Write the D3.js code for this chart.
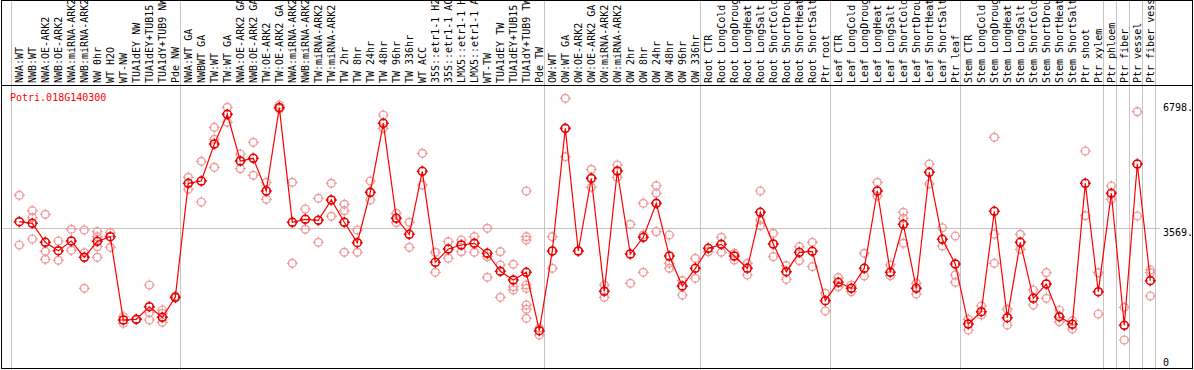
<!DOCTYPE html>
<html>
<head>
<meta charset="utf-8">
<script src="https://cdn.jsdelivr.net/npm/d3@7/dist/d3.min.js"></script>
<style>
  body { margin: 0; background: #fff; }
  text { font-family: "DejaVu Sans Mono", "Liberation Mono", monospace; font-size: 10px; }
</style>
</head>
<body>
<script>
// chart data
var geneName = "Potri.018G140300";

var categories = [
  "NWA:WT", "NWB:WT", "NWA:OE-ARK2", "NWB:OE-ARK2", "NWA:miRNA-ARK2", "NWB:miRNA-ARK2",
  "NW 0hr", "WT H2O", "WT-NW", "TUA1dEY NW", "TUA1dEY+TUB15", "TUA1dY+TUB9 NW", "Pde NW",
  "NWA:WT GA", "NWBWT GA", "TW:WT", "TW:WT GA", "NWA:OE-ARK2 GA", "NWB:OE-ARK2 GA",
  "TW:OE-ARK2", "TW:OE-ARK2 GA", "NWA:miRNA-ARK2", "NWB:miRNA-ARK2", "TW:miRNA-ARK2",
  "TW:miRNA-ARK2", "TW 2hr", "TW 8hr", "TW 24hr", "TW 48hr", "TW 96hr", "TW 336hr",
  "WT ACC", "35S::etr1-1 H2", "35S::etr1-1 AC", "LMX5::etr1-1 H", "LMX5::etr1-1 A",
  "WT-TW", "TUA1dEY TW", "TUA1dEY+TUB15", "TUA1dY+TUB9 TW", "Pde TW",
  "OW:WT", "OW:WT GA", "OW:OE-ARK2", "OW:OE-ARK2 GA", "OW:miRNA-ARK2", "OW:miRNA-ARK2",
  "OW 2hr", "OW 8hr", "OW 24hr", "OW 48hr", "OW 96hr", "OW 336hr",
  "Root CTR", "Root LongCold", "Root LongDroug", "Root LongHeat", "Root LongSalt",
  "Root ShortCold", "Root ShortDrou", "Root ShortHeat", "Root ShortSalt", "Ptr root",
  "Leaf CTR", "Leaf LongCold", "Leaf LongDroug", "Leaf LongHeat", "Leaf LongSalt",
  "Leaf ShortCold", "Leaf ShortDrou", "Leaf ShortHeat", "Leaf ShortSalt", "Ptr leaf",
  "Stem CTR", "Stem LongCold", "Stem LongDroug", "Stem LongHeat", "Stem LongSalt",
  "Stem ShortCold", "Stem ShortDrou", "Stem ShortHeat", "Stem ShortSalt", "Ptr shoot",
  "Ptr xylem", "Ptr phloem", "Ptr fiber", "Ptr vessel", "Ptr fiber vess"
];

// group boundaries (index of first category after each separator)
var groupBreaks = [0, 13, 41, 53, 63, 73, 84, 85, 86, 87, 88];

var means = [
  3749, 3706, 3198, 2974, 3233, 2798, 3225, 3348, 1122, 1141, 1478, 1194, 1729,
  4775, 4836, 5825, 6619, 5371, 5443, 4569, 6798, 3733, 3813, 3786, 4329, 3733, 3188,
  4534, 6378, 3840, 3412, 5096, 2664, 3019, 3126, 3172, 2904, 2424, 2191, 2397, 836,
  2966, 6244, 2966, 4908, 1889, 5104, 2886, 3332, 4240, 2832, 2031, 2504,
  3038, 3145, 2832, 2504, 4000, 3153, 2413, 2931, 2958, 1638,
  2130, 1969, 2504, 4569, 2397, 3679, 1969, 5069, 3279, 2619,
  1015, 1344, 4027, 1184, 3198, 1702, 2084, 1210, 1007, 4775,
  1878, 4508, 981, 5291, 2172
];

var replicates = [
  [4454, 3126], [4043, 3856, 3287], [3947, 2958, 2744], [3233, 2717], [3546, 2985],
  [3527, 2920, 1969], [3482, 3348, 3081, 2798], [3455, 3065], [1210, 1034], [1141],
  [2057, 1317, 1122], [1389, 1301, 1061], [1763, 1710],
  [4935, 4615], [5363, 4275], [6271, 5951, 5202], [6806, 6405], [5558, 5165],
  [5870, 4989], [4802, 4347], [6867, 6760], [4802, 2637], [4088, 3546], [4374, 3198],
  [4775, 3893], [4214, 4043, 2931], [3527, 2931], [4836, 4329], [6600, 6244],
  [3973, 3722], [3733, 3065], [5576, 4729], [2931, 2397], [3214, 2771], [3260, 2947],
  [3348, 2931], [3572, 2814, 2263], [2947, 2592, 1729], [2611, 2012, 1924],
  [4569, 3348, 3260, 2057, 1969, 1523, 1408, 1168], [900, 721],
  [3348, 2504], [7046, 5486], [2966], [5149, 4668], [2057, 1729], [5264, 4935],
  [3679, 2103], [4240, 3393, 2397], [4711, 4508, 3482], [3393, 2637, 2504],
  [2172, 1790], [2771, 2236],
  [2947], [3332, 2931], [2904, 2725], [2637, 2325], [4569, 3794, 3642], [3439, 2814],
  [2573, 2210], [3081, 2707], [3198, 2546], [1836, 1363],
  [2253, 2012], [2057, 1878], [2904, 2298], [4802, 4436], [2592, 2306],
  [4000, 3840, 3172], [2103, 1817], [5291, 4756], [3588, 3100], [3367, 2325, 2130],
  [1141, 855], [1496, 1256], [6004, 3420, 2637], [1408, 989], [3412, 3011],
  [1924, 1523], [2386, 1702], [1389, 1077], [1104, 882], [5638, 3909],
  [2386, 1283], [4703, 4347], [1462, 588], [6688, 3901], [2458, 2386, 1764]
];

var axisTicks = [6798, 3569, 0];

var svgWidth = 1194;
var svgHeight = 370;
var headerBottom = 85;

var svg = d3.select("body").append("svg")
  .attr("width", svgWidth)
  .attr("height", svgHeight);

var x = d3.scalePoint()
  .domain(d3.range(categories.length))
  .range([19.3, 1150.3]);

var y = d3.scaleLinear()
  .domain([0, 6798])
  .range([362, 107.6]);

var step = x.step();

// horizontal mid gridline
svg.append("line")
  .attr("x1", 2).attr("x2", 1160)
  .attr("y1", Math.round(y(3569)) + 0.5).attr("y2", Math.round(y(3569)) + 0.5)
  .attr("stroke", "#c4c4c4");

// group separators, through header and plot
svg.selectAll(".sep")
  .data(groupBreaks)
  .enter()
  .append("line")
  .attr("class", "sep")
  .attr("x1", d => Math.round(x(0) + (d - 0.5) * step - 2) + 0.5)
  .attr("x2", d => Math.round(x(0) + (d - 0.5) * step - 2) + 0.5)
  .attr("y1", 0).attr("y2", svgHeight)
  .attr("stroke", "#c4c4c4");

// frame
svg.append("rect")
  .attr("x", 1.5).attr("y", 0.5)
  .attr("width", 1191).attr("height", 368)
  .attr("fill", "none").attr("stroke", "#000");
svg.append("line")
  .attr("x1", 1).attr("x2", 1193)
  .attr("y1", headerBottom + 0.5).attr("y2", headerBottom + 0.5)
  .attr("stroke", "#000");

// header labels, clipped at the top border
svg.append("clipPath").attr("id", "hdr")
  .append("rect").attr("x", 0).attr("y", 1).attr("width", svgWidth).attr("height", headerBottom - 1);

svg.append("g")
  .attr("clip-path", "url(#hdr)")
  .selectAll("text")
  .data(categories)
  .enter()
  .append("text")
  .attr("transform", (d, i) => `translate(${x(i)}, ${headerBottom - 2}) rotate(-90)`)
  .attr("dy", "0.35em")
  .attr("fill", "#000")
  .text(d => d);

// gene name
svg.append("text")
  .attr("x", 10).attr("y", 101)
  .attr("fill", "#ff0000")
  .text(geneName);

// right axis labels
svg.selectAll(".ytick")
  .data(axisTicks)
  .enter()
  .append("text")
  .attr("class", "ytick")
  .attr("x", 1163)
  .attr("y", (d, i) => i === 1 ? y(d) + 8 : y(d) + 3.5)
  .attr("fill", "#000")
  .text(d => d === 0 ? "0" : d + ".");

var marker = "M-4,0a4,4 0 1,0 8,0a4,4 0 1,0 -8,0" +
  "M0,-5.5V-2.8M0,2.8V5.5M-5.5,0H-2.8M2.8,0H5.5";

// replicate points
var repPoints = [];
replicates.forEach(function(vals, i) {
  vals.forEach(function(v) { repPoints.push({ i: i, v: v }); });
});

svg.selectAll(".rep")
  .data(repPoints)
  .enter()
  .append("path")
  .attr("class", "rep")
  .attr("d", marker)
  .attr("transform", d => `translate(${x(d.i)}, ${y(d.v)})`)
  .attr("fill", "none")
  .attr("stroke", "#ef9a9a")
  .attr("stroke-width", 1.2);

// mean line
var line = d3.line()
  .x((d, i) => x(i))
  .y(d => y(d));

svg.append("path")
  .datum(means)
  .attr("d", line)
  .attr("fill", "none")
  .attr("stroke", "#ff0000")
  .attr("stroke-width", 1.2);

svg.selectAll(".mean")
  .data(means)
  .enter()
  .append("path")
  .attr("class", "mean")
  .attr("d", marker)
  .attr("transform", (d, i) => `translate(${x(i)}, ${y(d)})`)
  .attr("fill", "none")
  .attr("stroke", "#e60000")
  .attr("stroke-width", 1.6);
</script>
</body>
</html>
